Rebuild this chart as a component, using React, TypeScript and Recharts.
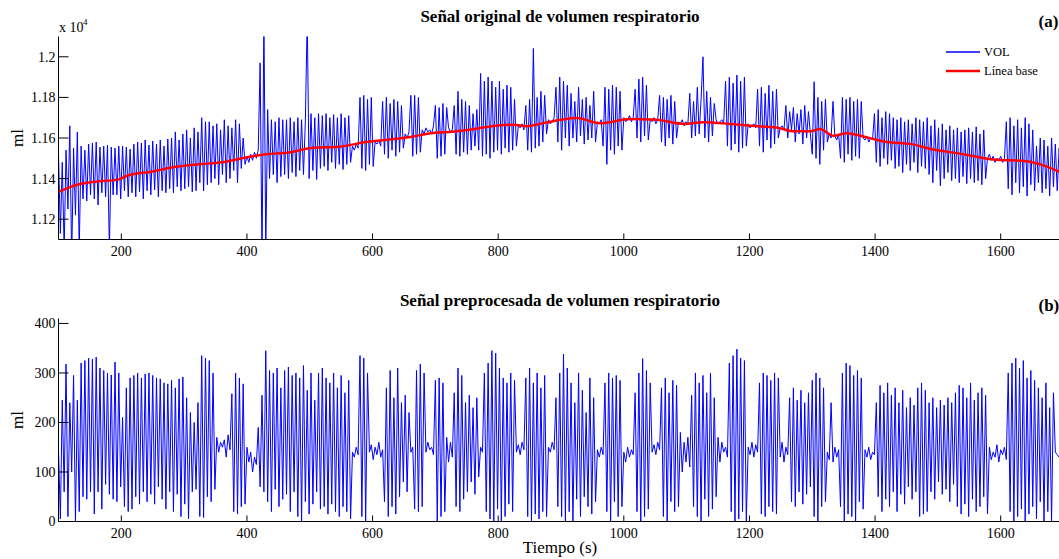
import { Legend, Line, LineChart, XAxis, YAxis } from 'recharts'

// Sampling grid of the recorded traces (seconds)
const T0 = 100
const DT = 3

// Raw respiratory volume (ml), one value every DT seconds from T0
const volOriginal = [
  11520, 11130, 11480, 11050, 11540, 11250, 11660, 11000, 11550, 11220, 11630, 11050, 11560, 11300, 11540, 11290, 11570, 11320, 11575, 11300,
  11580, 11270, 11555, 11330, 11560, 11310, 11565, 11050, 11555, 11320, 11550, 11320, 11560, 11300, 11560, 11340, 11555, 11310, 11545, 11330,
  11570, 11310, 11580, 11335, 11575, 11300, 11590, 11340, 11565, 11320, 11585, 11345, 11570, 11310, 11590, 11340, 11560, 11330, 11595, 11350,
  11600, 11330, 11630, 11360, 11590, 11340, 11620, 11350, 11640, 11360, 11600, 11335, 11650, 11340, 11630, 11380, 11700, 11340, 11680, 11370,
  11680, 11380, 11660, 11400, 11670, 11370, 11640, 11420, 11690, 11380, 11660, 11400, 11650, 11440, 11690, 11380, 11670, 11450, 11600, 11470,
  11510, 11480, 11520, 11490, 11530, 11500, 11540, 11970, 11000, 12200, 11050, 11740, 11400, 11690, 11420, 11680, 11380, 11700, 11410, 11690,
  11420, 11690, 11400, 11700, 11430, 11680, 11410, 11700, 11440, 11690, 11420, 11680, 12200, 11400, 11720, 11440, 11700, 11396, 11720, 11450,
  11710, 11460, 11720, 11440, 11700, 11480, 11715, 11450, 11700, 11470, 11720, 11445, 11700, 11470, 11710, 11480, 11560, 11540, 11570, 11550,
  11800, 11450, 11810, 11440, 11790, 11470, 11800, 11460, 11580, 11570, 11590, 11560, 11780, 11520, 11800, 11500, 11770, 11540, 11790, 11510,
  11780, 11530, 11760, 11550, 11620, 11600, 11630, 11810, 11510, 11810, 11520, 11800, 11530, 11640, 11620, 11650, 11630, 11640, 11620, 11660,
  11760, 11500, 11750, 11510, 11770, 11520, 11750, 11650, 11630, 11640, 11760, 11520, 11830, 11510, 11790, 11530, 11780, 11520, 11760, 11540,
  11720, 11560, 11740, 11540, 11918, 11510, 11880, 11520, 11900, 11500, 11880, 11530, 11850, 11540, 11880, 11520, 11840, 11550, 11860, 11530,
  11850, 11540, 11790, 11560, 11660, 11650, 11670, 11640, 11760, 11540, 11790, 11530, 12041, 11550, 11800, 11560, 11830, 11580, 11810, 11620,
  11690, 11670, 11680, 11700, 11850, 11580, 11900, 11540, 11880, 11600, 11860, 11560, 11820, 11600, 11780, 11580, 11850, 11610, 11790, 11570,
  11800, 11590, 11760, 11600, 11830, 11580, 11680, 11670, 11690, 11560, 11850, 11470, 11840, 11540, 11860, 11520, 11850, 11560, 11830, 11540,
  11700, 11680, 11690, 11710, 11680, 11700, 11840, 11600, 11890, 11580, 11900, 11610, 11860, 11590, 11690, 11680, 11700, 11670, 11690, 11810,
  11580, 11800, 11560, 11790, 11600, 11810, 11570, 11780, 11600, 11680, 11670, 11690, 11660, 11680, 11670, 11820, 11600, 11780, 11610, 11850,
  11620, 11790, 12000, 11600, 11830, 11580, 11800, 11610, 11770, 11690, 11670, 11680, 11690, 11670, 11880, 11560, 11900, 11540, 11870, 11570,
  11910, 11530, 11880, 11550, 11900, 11560, 11670, 11650, 11660, 11670, 11650, 11840, 11560, 11850, 11530, 11820, 11590, 11860, 11550, 11830,
  11570, 11840, 11600, 11650, 11660, 11640, 11760, 11600, 11730, 11640, 11750, 11580, 11720, 11620, 11740, 11570, 11760, 11600, 11730, 11620,
  11520, 11877, 11500, 11800, 11470, 11780, 11540, 11790, 11580, 11620, 11600, 11780, 11610, 11590, 11620, 11500, 11800, 11480, 11790, 11520,
  11800, 11490, 11780, 11510, 11790, 11500, 11780, 11600, 11590, 11610, 11580, 11600, 11590, 11720, 11480, 11740, 11460, 11700, 11500, 11730,
  11470, 11720, 11490, 11700, 11450, 11690, 11460, 11700, 11430, 11680, 11470, 11690, 11440, 11670, 11480, 11700, 11430, 11690, 11460, 11680,
  11450, 11700, 11420, 11660, 11380, 11690, 11440, 11650, 11365, 11670, 11400, 11640, 11430, 11660, 11390, 11640, 11400, 11650, 11380, 11630,
  11410, 11640, 11375, 11650, 11400, 11630, 11380, 11655, 11390, 11620, 11370, 11640, 11400, 11500, 11520, 11490, 11510, 11480, 11500, 11490,
  11510, 11480, 11500, 11680, 11350, 11700, 11320, 11660, 11380, 11690, 11330, 11650, 11360, 11700, 11314, 11670, 11370, 11640, 11340, 11560,
  11380, 11600, 11330, 11590, 11350, 11560, 11315, 11600, 11360, 11570, 11340, 11550, 11400, 11440,
]

// Baseline (slow trend) knots
const baselineTimes = [
  100, 130, 160, 195, 210, 250, 280, 320, 360, 400, 430, 470, 500, 550, 590, 620, 660, 690, 730, 760, 800, 825, 845, 870,
  900, 925, 962, 1010, 1052, 1095, 1127, 1169, 1201, 1243, 1270, 1297, 1312, 1334, 1355, 1387, 1419, 1456, 1493, 1535, 1588, 1641, 1663, 1700,
]
const baselineValues = [
  11335, 11370, 11385, 11395, 11415, 11435, 11455, 11470, 11480, 11505, 11520, 11530, 11550, 11558, 11580, 11590, 11605, 11622, 11632, 11643, 11662, 11665, 11658, 11672,
  11690, 11698, 11673, 11693, 11690, 11669, 11678, 11669, 11660, 11652, 11633, 11633, 11644, 11611, 11624, 11603, 11580, 11571, 11543, 11523, 11494, 11486, 11470, 11425,
]

// Detrended volume (ml), same sampling grid
const volPreprocessed = [
  145, 5, 245, 60, 318, 10, 240, 100, 295, 0, 245, 20, 320, 50, 325, 45, 330, 60, 328, 15,
  332, 60, 310, 25, 305, 75, 300, 55, 296, 45, 322, 40, 300, 70, 210, 30, 270, 20, 290, 25,
  295, 50, 300, 35, 290, 60, 298, 40, 300, 55, 295, 35, 290, 70, 288, 45, 280, 25, 278, 60,
  285, 20, 270, 55, 288, 10, 292, 35, 250, 5, 220, 60, 200, 65, 240, 10, 335, 8, 330, 50,
  325, 40, 300, 65, 170, 140, 160, 150, 165, 130, 175, 145, 258, 20, 300, 15, 290, 30, 278, 35,
  150, 120, 140, 100, 130, 115, 190, 70, 255, 60, 345, 40, 305, 20, 300, 65, 310, 30, 270, 45,
  305, 55, 312, 20, 295, 60, 300, 10, 290, 0, 315, 40, 265, 15, 300, 35, 245, 60, 300, 25,
  310, 30, 290, 15, 280, 35, 300, 20, 270, 10, 295, 30, 260, 20, 285, 5, 140, 130, 150, 135,
  335, 10, 330, 0, 300, 140, 155, 125, 150, 135, 160, 130, 145, 40, 270, 10, 305, 30, 250, 15,
  310, 50, 240, 80, 255, 60, 220, 140, 150, 25, 305, 20, 318, 30, 300, 140, 160, 145, 150, 135,
  285, 0, 290, 10, 280, 20, 170, 120, 160, 130, 260, 30, 310, 20, 295, 45, 240, 60, 255, 80,
  230, 55, 250, 90, 150, 140, 300, 20, 320, 5, 345, 0, 340, 25, 310, 0, 290, 10, 280, 35,
  300, 20, 285, 140, 155, 135, 160, 145, 290, 10, 310, 0, 280, 15, 300, 5, 270, 20, 295, 10,
  150, 140, 160, 145, 250, 30, 300, 10, 338, 0, 310, 20, 280, 0, 240, 45, 300, 10, 265, 50,
  220, 30, 290, 15, 250, 40, 145, 130, 150, 135, 280, 20, 300, 0, 290, 40, 295, 10, 285, 30,
  140, 120, 150, 130, 145, 135, 260, 20, 300, 0, 329, 10, 305, 25, 280, 140, 155, 135, 160, 145,
  270, 10, 290, 0, 260, 40, 285, 20, 275, 30, 180, 100, 160, 120, 170, 110, 255, 30, 300, 10,
  280, 0, 295, 45, 260, 10, 300, 25, 250, 50, 170, 120, 160, 140, 150, 130, 320, 20, 335, 0,
  348, 5, 330, 20, 325, 0, 150, 135, 160, 130, 155, 140, 280, 15, 300, 10, 295, 30, 285, 20,
  300, 15, 290, 130, 160, 120, 150, 135, 250, 40, 270, 30, 245, 60, 265, 35, 240, 55, 260, 70,
  285, 10, 300, 0, 290, 30, 270, 40, 140, 125, 240, 120, 150, 130, 145, 30, 300, 0, 320, 15,
  315, 10, 295, 0, 305, 40, 290, 25, 145, 130, 150, 125, 140, 135, 240, 50, 275, 20, 260, 45,
  280, 30, 255, 60, 270, 20, 240, 55, 265, 35, 230, 70, 250, 45, 235, 60, 270, 10, 280, 15,
  265, 20, 240, 60, 250, 45, 230, 80, 245, 55, 235, 65, 250, 40, 240, 75, 260, 30, 275, 15,
  270, 35, 250, 10, 280, 45, 245, 20, 260, 30, 270, 50, 255, 15, 150, 125, 140, 130, 155, 120,
  145, 135, 150, 125, 300, 20, 320, 0, 330, 10, 310, 25, 325, 0, 290, 15, 305, 30, 285, 5,
  270, 40, 250, 0, 280, 20, 230, 0, 260, 140, 135, 130, 140, 135,
]

const timeDomain = [100, 1700]
const timeTicks = [200, 400, 600, 800, 1000, 1200, 1400, 1600]
const originalDomain = [11100, 12100]
const originalTicks = [11200, 11400, 11600, 11800, 12000]
const preprocessedDomain = [0, 410]
const preprocessedTicks = [0, 100, 200, 300, 400]
const seriesNames = ['VOL', 'Línea base']

const originalData = volOriginal.map((v, i) => ({ t: T0 + i * DT, vol: v }))
const baselineData = baselineTimes.map((t, i) => ({ t, base: baselineValues[i] }))
const preprocessedData = volPreprocessed.map((v, i) => ({ t: T0 + i * DT, vol: v }))

const FONT = '"Liberation Serif", "Times New Roman", serif'
const BLUE = '#0000ff'
const RED = '#ff0000'
const INK = '#000000'

const CHART_W = 1070
const CHART_H = 270
const MARGIN = { top: 36.5, right: 6.5, bottom: 0.5, left: 0.5 }
const frame = { stroke: INK, strokeWidth: 1 }
const tickText = { fill: INK, fontSize: 14, fontFamily: FONT }

// legend swatch per series: [colour, line width]
const keyStyle: Record<string, [string, number]> = {
  VOL: [BLUE, 1.5],
  'Línea base': [RED, 2.5],
}

function SeriesKey({ payload }: { payload?: { value?: string }[] }) {
  if (!payload) return null
  // keep the plotting order (legend payload comes back sorted by name)
  const entries = [...payload].sort(
    (a, b) => seriesNames.indexOf(a.value ?? '') - seriesNames.indexOf(b.value ?? ''),
  )
  return (
    <svg width={120} height={38} style={{ display: 'block' }}>
      {entries.map((entry, i) => {
        const [color, width] = keyStyle[entry.value ?? ''] ?? [INK, 1]
        return (
          <g key={entry.value}>
            <path
              d={`M0,${10 + i * 19}H34`}
              fill="none"
              style={{ stroke: color, strokeWidth: width }}
            />
            <text x={38} y={14 + i * 19} fontSize={12.5} fontFamily={FONT} fill={INK}>
              {entry.value}
            </text>
          </g>
        )
      })}
    </svg>
  )
}

// Box frame: labelled bottom/left axes plus bare top/right axes, all ticks inward
function FrameAxes({ domain, ticks, format }: { domain: number[]; ticks: number[]; format: (v: number) => string }) {
  return [
    <XAxis
      key="xb"
      dataKey="t"
      type="number"
      domain={timeDomain}
      ticks={timeTicks}
      interval={0}
      allowDataOverflow
      height={30}
      tickSize={-6}
      tickMargin={12.5}
      axisLine={frame}
      tickLine={frame}
      tick={tickText}
    />,
    <XAxis
      key="xt"
      xAxisId="top"
      orientation="top"
      dataKey="t"
      type="number"
      domain={timeDomain}
      ticks={timeTicks}
      interval={0}
      allowDataOverflow
      height={0}
      tickSize={-6}
      axisLine={frame}
      tickLine={frame}
      tick={false}
    />,
    <YAxis
      key="yl"
      type="number"
      domain={domain}
      ticks={ticks}
      interval={0}
      allowDataOverflow
      width={58}
      tickSize={-10}
      tickMargin={13}
      axisLine={frame}
      tickLine={frame}
      tick={tickText}
      tickFormatter={format}
    />,
    <YAxis
      key="yr"
      yAxisId="right"
      orientation="right"
      type="number"
      domain={domain}
      ticks={ticks}
      interval={0}
      allowDataOverflow
      width={0}
      tickSize={-10}
      axisLine={frame}
      tickLine={frame}
      tick={false}
    />,
  ]
}

export default function App() {
  return (
    <div
      style={{
        position: 'fixed',
        left: 0,
        top: 0,
        width: 1059,
        height: 559,
        overflow: 'hidden',
        background: '#ffffff',
      }}
    >
      <div style={{ position: 'absolute', left: 0, top: 0 }}>
        <LineChart width={CHART_W} height={CHART_H} data={originalData} margin={MARGIN}>
          {FrameAxes({ domain: originalDomain, ticks: originalTicks, format: (v) => String(v / 10000) })}
          <Line
            dataKey="vol"
            name="VOL"
            type="linear"
            stroke={BLUE}
            strokeWidth={1}
            dot={false}
            activeDot={false}
            isAnimationActive={false}
          />
          <Line
            data={baselineData}
            dataKey="base"
            name="Línea base"
            type="monotone"
            stroke={RED}
            strokeWidth={2.5}
            dot={false}
            activeDot={false}
            isAnimationActive={false}
          />
          <Legend
            layout="vertical"
            align="center"
            verticalAlign="middle"
            content={<SeriesKey />}
            wrapperStyle={{ position: 'absolute', left: 946, top: 42, width: 120, height: 38 }}
          />
        </LineChart>
      </div>
      <div style={{ position: 'absolute', left: 0, top: 282 }}>
        <LineChart width={CHART_W} height={CHART_H} data={preprocessedData} margin={MARGIN}>
          {FrameAxes({ domain: preprocessedDomain, ticks: preprocessedTicks, format: (v) => String(v) })}
          <Line
            dataKey="vol"
            name="VOL"
            type="linear"
            stroke={BLUE}
            strokeWidth={1}
            dot={false}
            activeDot={false}
            isAnimationActive={false}
          />
        </LineChart>
      </div>
      <svg
        width={1059}
        height={559}
        style={{ position: 'absolute', left: 0, top: 0, pointerEvents: 'none' }}
        fontFamily={FONT}
        fill={INK}
      >
        <text x={560} y={22} textAnchor="middle" fontSize={17} fontWeight="bold">
          Señal original de volumen respiratorio
        </text>
        <text x={1038.5} y={27} fontSize={17} fontWeight="bold">
          (a)
        </text>
        <text x={59} y={32} fontSize={14}>
          x 10
        </text>
        <text x={83} y={25} fontSize={9}>
          4
        </text>
        <text x={23} y={138} textAnchor="middle" fontSize={17} transform="rotate(-90 23 138)">
          ml
        </text>
        <text x={560} y={306} textAnchor="middle" fontSize={17} fontWeight="bold">
          Señal preprocesada de volumen respiratorio
        </text>
        <text x={1038.5} y={310.5} fontSize={17} fontWeight="bold">
          (b)
        </text>
        <text x={23} y={420} textAnchor="middle" fontSize={17} transform="rotate(-90 23 420)">
          ml
        </text>
        <text x={560} y={553} textAnchor="middle" fontSize={17}>
          Tiempo (s)
        </text>
      </svg>
    </div>
  )
}
